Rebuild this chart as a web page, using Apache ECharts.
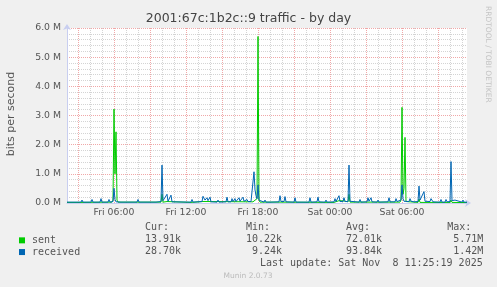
<!DOCTYPE html>
<html>
<head>
<meta charset="utf-8">
<script src="https://cdn.jsdelivr.net/npm/echarts@6/dist/echarts.min.js"></script>
<style>
html,body{margin:0;padding:0;background:#F0F0F0;}
#chart{width:497px;height:287px;}
</style>
</head>
<body>
<div id="chart"></div>
<script>
// ---- data (values in Mbit/s, times as "Day HH:MM") ----
var titleText = '2001:67c:1b2c::9 traffic - by day';
var yAxisName = 'bits per second';
var xStart = 'Fri 02:05';
var xEnd = 'Sat 11:25';
var yTickValues = [0, 1, 2, 3, 4, 5, 6];
var xLabelTimes = ['Fri 06:00', 'Fri 12:00', 'Fri 18:00', 'Sat 00:00', 'Sat 06:00'];
var xMajorTimes = ['Fri 03:00','Fri 06:00','Fri 09:00','Fri 12:00','Fri 15:00','Fri 18:00','Fri 21:00','Sat 00:00','Sat 03:00','Sat 06:00','Sat 09:00'];

var sentData = [
  ['Fri 02:05',0.02],['Fri 03:15',0.02],['Fri 03:20',0.05],['Fri 03:25',0.02],
  ['Fri 05:50',0.03],['Fri 05:55',0.10],['Fri 06:00',3.22],['Fri 06:05',1.00],['Fri 06:10',2.44],['Fri 06:15',0.10],['Fri 06:20',0.03],
  ['Fri 09:55',0.03],['Fri 10:00',0.30],['Fri 10:05',0.03],['Fri 10:25',0.05],['Fri 10:30',0.02],
  ['Fri 12:25',0.02],['Fri 12:30',0.05],['Fri 12:35',0.02],['Fri 13:25',0.05],['Fri 13:30',0.02],['Fri 14:00',0.05],['Fri 14:05',0.02],
  ['Fri 17:35',0.04],['Fri 17:45',0.10],['Fri 17:55',0.15],['Fri 18:00',5.71],['Fri 18:05',0.10],['Fri 18:10',0.03],
  ['Fri 19:50',0.03],['Fri 19:55',0.02],['Sat 00:20',0.02],['Sat 00:25',0.07],['Sat 00:30',0.02],['Sat 00:45',0.08],['Sat 00:50',0.02],['Sat 01:10',0.07],['Sat 01:15',0.02],
  ['Sat 01:30',0.04],['Sat 01:35',0.30],['Sat 01:40',0.03],
  ['Sat 03:10',0.03],['Sat 03:15',0.08],['Sat 03:20',0.02],
  ['Sat 05:50',0.03],['Sat 05:55',0.10],['Sat 06:00',3.28],['Sat 06:05',0.30],['Sat 06:10',0.50],['Sat 06:15',2.25],['Sat 06:20',0.05],['Sat 06:25',0.02],
  ['Sat 07:20',0.02],['Sat 07:25',0.14],['Sat 07:30',0.02],['Sat 07:45',0.02],['Sat 07:50',0.08],['Sat 07:55',0.02],
  ['Sat 08:25',0.02],['Sat 08:30',0.05],['Sat 08:35',0.02],
  ['Sat 10:00',0.02],['Sat 10:05',0.10],['Sat 10:10',0.02],['Sat 11:25',0.014]
];

var receivedData = [
  ['Fri 02:05',0.03],['Fri 03:15',0.03],['Fri 03:20',0.10],['Fri 03:25',0.03],
  ['Fri 04:05',0.03],['Fri 04:10',0.12],['Fri 04:15',0.03],
  ['Fri 04:50',0.03],['Fri 04:55',0.15],['Fri 05:00',0.03],
  ['Fri 05:30',0.03],['Fri 05:35',0.12],['Fri 05:40',0.03],
  ['Fri 05:55',0.05],['Fri 06:00',0.50],['Fri 06:05',0.12],['Fri 06:10',0.04],
  ['Fri 06:35',0.03],['Fri 06:40',0.07],['Fri 06:45',0.03],
  ['Fri 07:55',0.03],['Fri 08:00',0.12],['Fri 08:05',0.03],
  ['Fri 09:05',0.03],['Fri 09:10',0.06],['Fri 09:15',0.03],['Fri 09:30',0.03],['Fri 09:35',0.06],['Fri 09:40',0.03],
  ['Fri 09:55',0.05],['Fri 10:00',1.30],['Fri 10:05',0.08],['Fri 10:15',0.05],['Fri 10:25',0.30],['Fri 10:30',0.06],['Fri 10:35',0.05],['Fri 10:45',0.27],['Fri 10:50',0.04],
  ['Fri 12:25',0.03],['Fri 12:30',0.12],['Fri 12:35',0.03],
  ['Fri 13:20',0.05],['Fri 13:25',0.23],['Fri 13:35',0.10],['Fri 13:45',0.18],['Fri 13:50',0.08],['Fri 14:00',0.20],['Fri 14:05',0.04],
  ['Fri 14:35',0.03],['Fri 14:40',0.10],['Fri 14:45',0.03],
  ['Fri 15:20',0.04],['Fri 15:25',0.20],['Fri 15:30',0.04],
  ['Fri 15:45',0.04],['Fri 15:50',0.15],['Fri 15:55',0.05],['Fri 16:05',0.15],['Fri 16:10',0.05],
  ['Fri 16:20',0.05],['Fri 16:25',0.18],['Fri 16:30',0.06],['Fri 16:40',0.06],['Fri 16:45',0.20],['Fri 16:50',0.06],
  ['Fri 17:00',0.05],['Fri 17:05',0.12],['Fri 17:10',0.05],['Fri 17:20',0.10],['Fri 17:25',0.05],
  ['Fri 17:35',0.10],['Fri 17:40',1.07],['Fri 17:45',0.45],['Fri 17:50',0.25],['Fri 17:55',0.15],['Fri 18:00',0.62],['Fri 18:05',0.10],['Fri 18:10',0.04],
  ['Fri 18:30',0.03],['Fri 18:35',0.10],['Fri 18:40',0.03],
  ['Fri 19:00',0.03],['Fri 19:05',0.08],['Fri 19:10',0.03],
  ['Fri 19:45',0.04],['Fri 19:50',0.25],['Fri 19:55',0.05],['Fri 20:10',0.05],['Fri 20:15',0.22],['Fri 20:20',0.04],
  ['Fri 21:00',0.03],['Fri 21:05',0.18],['Fri 21:10',0.03],
  ['Fri 22:15',0.03],['Fri 22:20',0.18],['Fri 22:25',0.03],
  ['Fri 22:55',0.04],['Fri 23:00',0.20],['Fri 23:05',0.04],
  ['Fri 23:35',0.03],['Fri 23:40',0.10],['Fri 23:45',0.03],
  ['Sat 00:20',0.04],['Sat 00:25',0.15],['Sat 00:30',0.05],['Sat 00:40',0.05],['Sat 00:45',0.25],['Sat 00:50',0.05],['Sat 01:05',0.05],['Sat 01:10',0.18],['Sat 01:15',0.05],
  ['Sat 01:30',0.05],['Sat 01:35',1.30],['Sat 01:40',0.06],
  ['Sat 02:25',0.03],['Sat 02:30',0.12],['Sat 02:35',0.03],
  ['Sat 03:05',0.04],['Sat 03:10',0.18],['Sat 03:15',0.06],['Sat 03:25',0.18],['Sat 03:30',0.04],
  ['Sat 03:55',0.03],['Sat 04:00',0.10],['Sat 04:05',0.03],
  ['Sat 04:50',0.04],['Sat 04:55',0.18],['Sat 05:00',0.04],
  ['Sat 05:25',0.04],['Sat 05:30',0.15],['Sat 05:35',0.05],
  ['Sat 05:55',0.10],['Sat 06:00',0.62],['Sat 06:05',0.15],['Sat 06:10',0.06],
  ['Sat 06:35',0.05],['Sat 06:40',0.15],['Sat 06:45',0.06],['Sat 06:55',0.12],['Sat 07:00',0.04],
  ['Sat 07:20',0.05],['Sat 07:25',0.58],['Sat 07:30',0.10],['Sat 07:40',0.08],['Sat 07:50',0.39],['Sat 07:55',0.06],
  ['Sat 08:20',0.05],['Sat 08:25',0.15],['Sat 08:30',0.12],['Sat 08:35',0.04],
  ['Sat 09:10',0.03],['Sat 09:15',0.12],['Sat 09:20',0.03],
  ['Sat 09:35',0.03],['Sat 09:40',0.12],['Sat 09:45',0.04],
  ['Sat 10:00',0.05],['Sat 10:05',1.42],['Sat 10:10',0.08],['Sat 10:20',0.05],['Sat 10:25',0.10],['Sat 10:30',0.04],
  ['Sat 11:00',0.03],['Sat 11:05',0.10],['Sat 11:10',0.03],['Sat 11:25',0.029]
];

var seriesNames = ['sent', 'received'];
var seriesColors = ['#00CC00', '#0066B3'];
var statHeaders = ['Cur:', 'Min:', 'Avg:', 'Max:'];
var sentStats = ['13.91k', '10.22k', '72.01k', '5.71M'];
var receivedStats = ['28.70k', '9.24k', '93.84k', '1.42M'];
var lastUpdate = 'Last update: Sat Nov  8 11:25:19 2025';
var footerText = 'Munin 2.0.73';
var sideText = 'RRDTOOL / TOBI OETIKER';

// ---- helpers ----
function toHours(s) {
  var p = s.split(' ');
  var dayOff = p[0] === 'Sat' ? 24 : 0;
  var hm = p[1].split(':');
  return dayOff + parseInt(hm[0], 10) + parseInt(hm[1], 10) / 60;
}
function conv(arr) { return arr.map(function (d) { return [toHours(d[0]), d[1]]; }); }

var labelHours = xLabelTimes.map(toHours);
var majorHours = xMajorTimes.map(toHours);
var minorHours = [];
for (var h = Math.ceil(toHours(xStart)); h <= Math.floor(toHours(xEnd)); h++) {
  if (majorHours.indexOf(h) < 0) minorHours.push(h);
}

var FONT = 'DejaVu Sans';
var MONO = 'DejaVu Sans Mono';
var TXT = '#555555';
var AXIS = '#C8CEF0';
var MGRID = '#F0A8A8';
var GRID = '#D4D4D4';

var chart = echarts.init(document.getElementById('chart'), null, {renderer: 'canvas'});

var colRight = [181, 282, 382, 483.3];
var graphics = [
  {type: 'text', x: 248.5, y: 19, style: {text: titleText, font: '12.5px "' + FONT + '"', fill: '#444', align: 'center', verticalAlign: 'middle'}},
  {type: 'text', x: 11, y: 114, rotation: Math.PI / 2, style: {text: yAxisName, font: '11px "' + FONT + '"', fill: TXT, align: 'center', verticalAlign: 'middle'}},
  {type: 'text', x: 488, y: 6, rotation: -Math.PI / 2, style: {text: sideText, font: '7.5px "' + FONT + '"', fill: '#C4C4C4', align: 'left', verticalAlign: 'middle'}},
  {type: 'text', x: 248, y: 276, style: {text: footerText, font: '7.5px "' + FONT + '"', fill: '#BBBBBB', align: 'center', verticalAlign: 'middle'}},
  {type: 'text', x: 482.7, y: 263.7, style: {text: lastUpdate, font: '10px "' + MONO + '"', fill: TXT, align: 'right', verticalAlign: 'middle'}}
];
statHeaders.forEach(function (t, i) {
  graphics.push({type: 'text', x: colRight[i] - 36, y: 227.7, style: {text: t, font: '10px "' + MONO + '"', fill: TXT, align: 'left', verticalAlign: 'middle'}});
  graphics.push({type: 'text', x: colRight[i], y: 239.3, style: {text: sentStats[i], font: '10px "' + MONO + '"', fill: TXT, align: 'right', verticalAlign: 'middle'}});
  graphics.push({type: 'text', x: colRight[i], y: 251, style: {text: receivedStats[i], font: '10px "' + MONO + '"', fill: TXT, align: 'right', verticalAlign: 'middle'}});
});

var option = {
  backgroundColor: '#F0F0F0',
  animation: false,
  grid: {left: 67, right: 30, top: 28, bottom: 84, show: true, backgroundColor: '#FFFFFF', borderWidth: 0},
  legend: {
    data: seriesNames, orient: 'vertical', left: 14, top: 229.5,
    icon: 'rect', itemWidth: 6, itemHeight: 6, itemGap: 0,
    textStyle: {fontFamily: MONO, fontSize: 10, color: TXT, lineHeight: 11.7, padding: [0, 0, 0, 2]},
    selectedMode: false
  },
  xAxis: {
    type: 'value', min: toHours(xStart), max: toHours(xEnd), position: 'bottom',
    axisLine: {show: true, lineStyle: {color: AXIS, width: 1}, symbol: ['none', 'arrow'], symbolSize: [6, 6], symbolOffset: [0, 4]},
    axisTick: {show: false, customValues: majorHours},
    axisLabel: {
      customValues: labelHours, margin: 5, color: TXT, fontFamily: FONT, fontSize: 9.3,
      formatter: function (v) {
        for (var i = 0; i < labelHours.length; i++) if (Math.abs(labelHours[i] - v) < 1e-6) return xLabelTimes[i];
        return '';
      }
    },
    splitLine: {show: true, lineStyle: {color: MGRID, type: [1, 1], width: 1}}
  },
  yAxis: {
    type: 'value', min: yTickValues[0], max: yTickValues[yTickValues.length - 1], interval: 1,
    axisLine: {show: true, lineStyle: {color: AXIS, width: 1}, symbol: ['none', 'arrow'], symbolSize: [6, 6], symbolOffset: [0, 4]},
    axisTick: {show: false},
    axisLabel: {margin: 6, color: TXT, fontFamily: FONT, fontSize: 9.3, formatter: function (v) { return v.toFixed(1) + ' M'; }},
    splitLine: {show: true, lineStyle: {color: MGRID, type: [1, 1], width: 1}},
    minorTick: {show: false, splitNumber: 5},
    minorSplitLine: {show: true, lineStyle: {color: GRID, type: [1, 1], width: 1}}
  },
  series: [
    {name: 'hourGrid', type: 'line', data: [], silent: true, z: 1, legendHoverLink: false,
     markLine: {silent: true, z: 1, symbol: 'none', animation: false, label: {show: false},
       lineStyle: {color: GRID, type: [1, 1], width: 1},
       emphasis: {disabled: true},
       data: minorHours.map(function (v) { return {xAxis: v}; })}},
    {name: seriesNames[0], type: 'line', data: conv(sentData), showSymbol: false, symbol: 'none',
     color: seriesColors[0], lineStyle: {width: 1, color: seriesColors[0]}, z: 3},
    {name: seriesNames[1], type: 'line', data: conv(receivedData), showSymbol: false, symbol: 'none',
     color: seriesColors[1], lineStyle: {width: 1, color: seriesColors[1]}, z: 4}
  ],
  graphic: graphics
};
chart.setOption(option);
</script>
</body>
</html>
